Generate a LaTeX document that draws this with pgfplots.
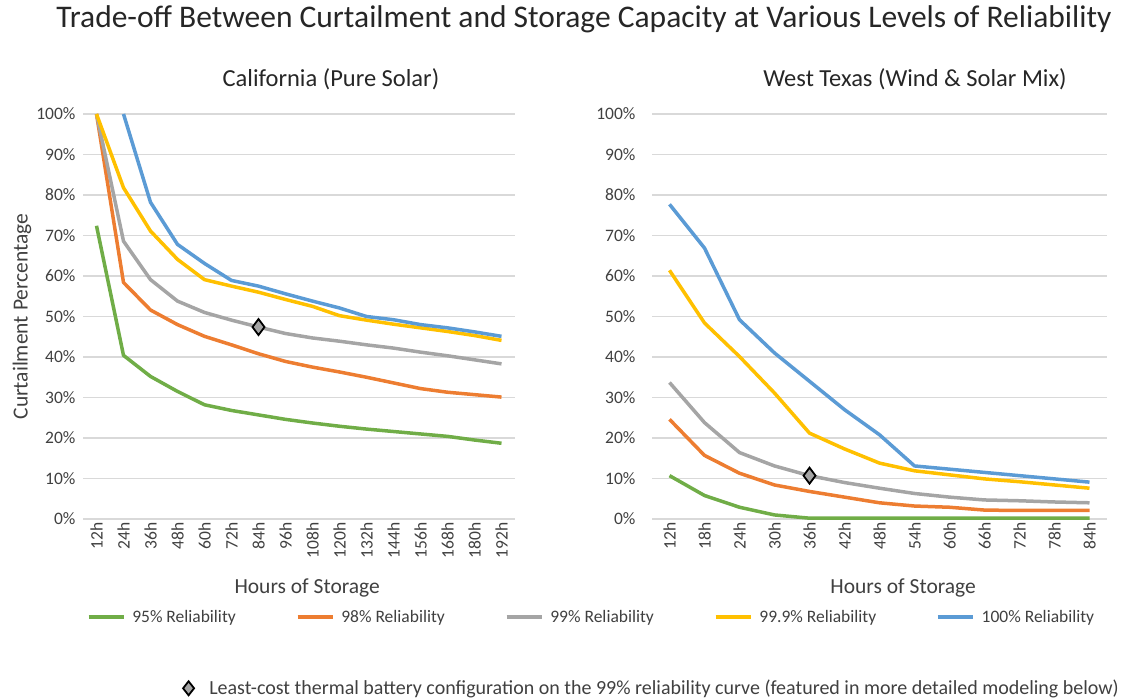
\documentclass[border=0pt]{standalone}
\usepackage{pgfplots}
\pgfplotsset{compat=1.18}
\usepackage{fontspec}
\setmainfont{Carlito}
\definecolor{cgreen}{HTML}{70AD47}
\definecolor{corange}{HTML}{ED7D31}
\definecolor{cgray}{HTML}{A5A5A5}
\definecolor{cyellow}{HTML}{FFC000}
\definecolor{cblue}{HTML}{5B9BD5}
\definecolor{gridgray}{HTML}{D9D9D9}
\definecolor{txt}{HTML}{404040}
\pgfplotsset{
  base/.style={
    scale only axis, height=405pt,
    ymin=0, ymax=100,
    axis line style={draw=none},
    major tick length=0pt,
    ymajorgrids, grid style={draw=gridgray, line width=1.3pt},
    ytick={0,10,...,100},
    yticklabels={0\%,10\%,20\%,30\%,40\%,50\%,60\%,70\%,80\%,90\%,100\%},
    yticklabel style={font=\fontsize{17.5}{20}\selectfont, text=txt},
    xticklabel style={rotate=90, anchor=east, font=\fontsize{17.5}{20}\selectfont, text=txt},
    xtick={0,...,15},
    xlabel style={font=\fontsize{21.5}{24}\selectfont, text=txt},
    ylabel style={font=\fontsize{21.5}{24}\selectfont, text=txt},
    title style={font=\fontsize{24.5}{28}\selectfont, text=black!85},
    clip=false,
  },
  ln/.style={line width=3.5pt, mark=none, line join=round},
  dia/.style={only marks, mark=diamond*, mark size=8pt, mark options={draw=black, fill=cgray, line width=1.8pt}},
}
\begin{document}
\begin{tikzpicture}
\useasboundingbox (0pt,0pt) rectangle (1145pt,700pt);
\node[font=\fontsize{31.5}{36}\selectfont, text=black!85] at (584pt,681pt) {Trade-off Between Curtailment and Storage Capacity at Various Levels of Reliability};
\begin{axis}[base,
  at={(83pt,181pt)}, anchor=south west, width=432pt,
  xmin=-0.5, xmax=15.5,
  xticklabels={12h,24h,36h,48h,60h,72h,84h,96h,108h,120h,132h,144h,156h,168h,180h,192h},
  yticklabel style={xshift=-4pt},
  xlabel={Hours of Storage},
  xlabel style={at={(axis description cs:0.519,-0.17)}, anchor=center},
  ylabel={Curtailment Percentage},
  ylabel style={at={(axis description cs:-0.141,0.5)}, anchor=center},
  title={California (Pure Solar)},
  title style={at={(axis description cs:0.574,1.072)}, anchor=center},
  legend columns=5,
  legend style={at={(axis description cs:1.177,-0.242)}, anchor=center, draw=none, fill=none,
    font=\fontsize{17.5}{20}\selectfont, text=txt,
    /tikz/every even column/.append style={column sep=58pt}},
  legend image code/.code={\draw[#1] (0pt,0pt) -- (35pt,0pt); \path (40pt,0pt);},
]
\addplot[ln, cgreen] coordinates {(0,72.4)(1,40.4)(2,35.2)(3,31.5)(4,28.2)(5,26.8)(6,25.7)(7,24.6)(8,23.7)(9,22.9)(10,22.2)(11,21.6)(12,21.0)(13,20.4)(14,19.5)(15,18.7)};
\addplot[ln, corange] coordinates {(0,100)(1,58.4)(2,51.6)(3,48.0)(4,45.1)(5,43.0)(6,40.8)(7,38.9)(8,37.5)(9,36.3)(10,35.0)(11,33.6)(12,32.2)(13,31.3)(14,30.7)(15,30.1)};
\addplot[ln, cgray] coordinates {(0,100)(1,68.6)(2,59.1)(3,53.8)(4,51.0)(5,49.1)(6,47.4)(7,45.8)(8,44.7)(9,43.9)(10,43.0)(11,42.2)(12,41.2)(13,40.3)(14,39.3)(15,38.3)};
\addplot[ln, cyellow] coordinates {(0,100)(1,81.8)(2,71.1)(3,64.1)(4,59.1)(5,57.5)(6,56.0)(7,54.2)(8,52.5)(9,50.2)(10,49.1)(11,48.1)(12,47.2)(13,46.3)(14,45.3)(15,44.1)};
\addplot[ln, cblue] coordinates {(1,100)(2,78.2)(3,67.8)(4,63.1)(5,58.9)(6,57.5)(7,55.6)(8,53.8)(9,52.1)(10,50.0)(11,49.2)(12,48.0)(13,47.2)(14,46.2)(15,45.1)};
\addplot[dia] coordinates {(6,47.4)};
\legend{95\% Reliability,98\% Reliability,99\% Reliability,99.9\% Reliability,100\% Reliability}
\end{axis}
\begin{axis}[base,
  at={(652pt,181pt)}, anchor=south west, width=455pt,
  xmin=-0.5, xmax=12.5,
  xtick={0,...,12},
  xticklabels={12h,18h,24h,30h,36h,42h,48h,54h,60h,66h,72h,78h,84h},
  yticklabel style={xshift=-13pt},
  xlabel={Hours of Storage},
  xlabel style={at={(axis description cs:0.552,-0.17)}, anchor=center},
  title={West Texas (Wind \& Solar Mix)},
  title style={at={(axis description cs:0.578,1.072)}, anchor=center},
  legend style={at={(axis description cs:-0.001,-0.418)}, anchor=center, draw=none, fill=none,
    font=\fontsize{20}{23}\selectfont, text=txt},
]
\addlegendimage{legend image code/.code={\draw[black, fill=cgray, line width=1.8pt] (0pt,-7pt)--(5.5pt,0pt)--(0pt,7pt)--(-5.5pt,0pt)--cycle; \path (18.5pt,0pt);}}
\addlegendentry{Least-cost thermal battery configuration on the 99\% reliability curve (featured in more detailed modeling below)}
\addplot[ln, cgreen] coordinates {(0,10.7)(1,5.8)(2,2.9)(3,1.0)(4,0.2)(5,0.2)(6,0.2)(7,0.2)(8,0.2)(9,0.2)(10,0.2)(11,0.2)(12,0.2)};
\addplot[ln, corange] coordinates {(0,24.6)(1,15.7)(2,11.3)(3,8.4)(4,6.8)(5,5.4)(6,4.0)(7,3.2)(8,2.9)(9,2.2)(10,2.1)(11,2.1)(12,2.1)};
\addplot[ln, cgray] coordinates {(0,33.7)(1,23.8)(2,16.4)(3,13.1)(4,10.7)(5,9.0)(6,7.6)(7,6.3)(8,5.4)(9,4.7)(10,4.5)(11,4.2)(12,4.0)};
\addplot[ln, cyellow] coordinates {(0,61.4)(1,48.4)(2,40.1)(3,31.1)(4,21.2)(5,17.3)(6,13.8)(7,11.9)(8,10.9)(9,9.9)(10,9.2)(11,8.4)(12,7.6)};
\addplot[ln, cblue] coordinates {(0,77.7)(1,66.9)(2,49.2)(3,41.0)(4,34.0)(5,27.0)(6,20.8)(7,13.1)(8,12.3)(9,11.5)(10,10.7)(11,9.9)(12,9.1)};
\addplot[dia] coordinates {(4,10.7)};
\end{axis}
\end{tikzpicture}
\end{document}
